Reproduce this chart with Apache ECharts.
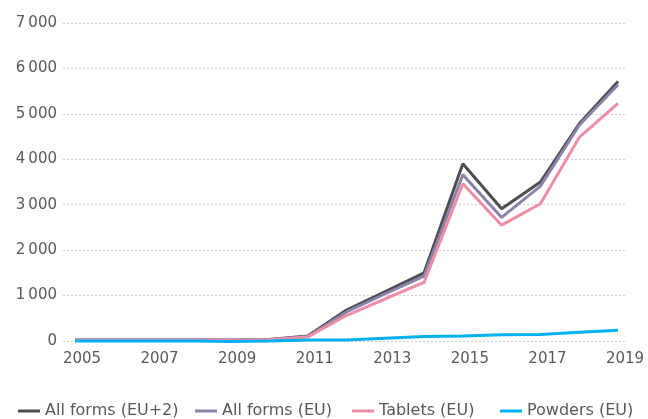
<!DOCTYPE html>
<html>
<head>
<meta charset="utf-8">
<script src="https://cdn.jsdelivr.net/npm/echarts@6/dist/echarts.min.js"></script>
<style>
  html, body { margin: 0; padding: 0; background: #fff; }
  #main { width: 648px; height: 419px; }
</style>
</head>
<body>
<div id="main"></div>
<script>
// years on the x axis
const years = ['2005', '2006', '2007', '2008', '2009', '2010', '2011', '2012',
  '2013', '2014', '2015', '2016', '2017', '2018', '2019'];

// series names and values
const names = ['All forms (EU+2)', 'All forms (EU)', 'Tablets (EU)', 'Powders (EU)'];
const allFormsEU2 = [20, 20, 20, 20, 20, 35, 110, 680, 1090, 1500, 3900, 2910, 3500, 4780, 5710];
const allFormsEU = [20, 20, 20, 20, 20, 30, 100, 640, 1040, 1430, 3660, 2720, 3410, 4750, 5640];
const tablets = [20, 20, 20, 20, 20, 30, 90, 560, 930, 1290, 3460, 2550, 3020, 4480, 5230];
const powders = [0, 0, 0, 0, -10, 0, 20, 20, 60, 100, 110, 140, 145, 190, 235];

const colors = ['#4d4d4f', '#8b81a9', '#ee8ea6', '#00b0f0'];
const legendLeft = [18, 195, 352, 500];
const font = 'DejaVu Sans';
const textColor = '#595959';

let myChart = echarts.init(document.getElementById('main'));

// grid 0 carries the dotted grid lines and y labels, grid 1 carries the data
let option = {
  animation: false,
  color: colors,
  // one legend per item so each sits where the original puts it
  legend: names.map((n, i) => ({
    left: legendLeft[i],
    top: 403,
    padding: 0,
    itemWidth: 22,
    itemHeight: 3,
    icon: 'rect',
    textStyle: { fontFamily: font, fontSize: 16, color: textColor },
    data: [n]
  })),
  grid: [
    { left: 63, right: 21, top: 23, bottom: 78 },
    { left: 75, right: 30, top: 23, bottom: 78 }
  ],
  xAxis: [
    {
      gridIndex: 0,
      type: 'value',
      show: false
    },
    {
      gridIndex: 1,
      type: 'category',
      boundaryGap: false,
      data: years,
      axisLine: { show: false },
      axisTick: { show: false },
      axisLabel: {
        interval: 1,
        margin: 11,
        padding: [0, 0, 0, 14],
        fontFamily: font,
        fontSize: 15,
        color: textColor
      }
    }
  ],
  yAxis: [
    {
      gridIndex: 0,
      type: 'value',
      min: 0,
      max: 7000,
      interval: 1000,
      axisLine: { show: false },
      axisTick: { show: false },
      axisLabel: {
        margin: 6,
        fontFamily: font,
        fontSize: 15,
        color: textColor,
        formatter: v => v >= 1000 ? Math.floor(v / 1000) + '\u2009' + String(v % 1000).padStart(3, '0') : String(v)
      },
      splitLine: { lineStyle: { color: '#d0d0d0', type: [2, 2], width: 1 } }
    },
    {
      gridIndex: 1,
      type: 'value',
      min: 0,
      max: 7000,
      interval: 1000,
      show: false,
      splitLine: { show: false }
    }
  ],
  series: [allFormsEU2, allFormsEU, tablets, powders].map((d, i) => ({
    name: names[i],
    type: 'line',
    xAxisIndex: 1,
    yAxisIndex: 1,
    data: d,
    showSymbol: false,
    clip: false,
    lineStyle: { width: 3 }
  }))
};

myChart.setOption(option);
</script>
</body>
</html>
